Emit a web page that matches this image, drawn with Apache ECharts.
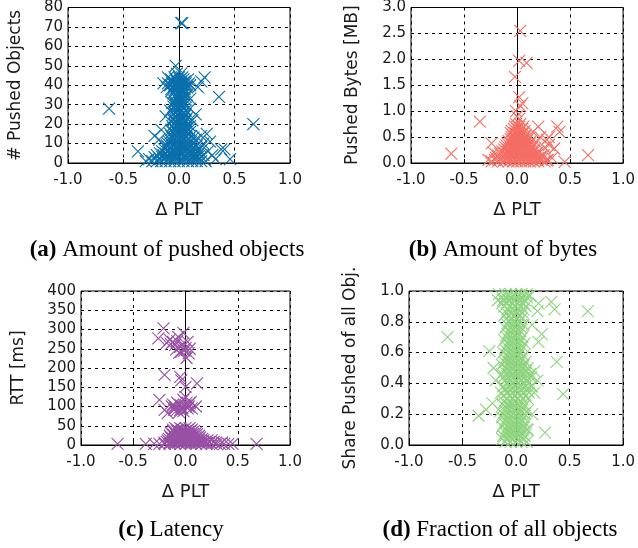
<!DOCTYPE html>
<html>
<head>
<meta charset="utf-8">
<script src="https://cdn.jsdelivr.net/npm/echarts@6/dist/echarts.min.js"></script>
<style>
  html, body { margin: 0; padding: 0; background: #fff; }
  #chart { width: 638px; height: 548px; }
</style>
</head>
<body>
<div id="chart"></div>
<script>
// tick labels
const xTickLabels = ['-1.0', '-0.5', '0.0', '0.5', '1.0'];
const objTickLabels = ['0', '10', '20', '30', '40', '50', '60', '70', '80'];
const bytesTickLabels = ['0.0', '0.5', '1.0', '1.5', '2.0', '2.5', '3.0'];
const rttTickLabels = ['0', '50', '100', '150', '200', '250', '300', '350', '400'];
const shareTickLabels = ['0.0', '0.2', '0.4', '0.6', '0.8', '1.0'];

const captions = ['Amount of pushed objects', 'Amount of bytes', 'Latency', 'Fraction of all objects'];

// (a) delta PLT vs # pushed objects
const pushedObjects = [
  [-0.24,1],[-0.2,1],[-0.16,1],[-0.12,1],[-0.08,1],[-0.04,1],[0,1],[0.04,1],[0.08,1],[0.12,1],[0.16,1],[0.2,1],[0.24,1],
  [-0.18,2.5],[-0.13,2.5],[-0.09,2.5],[-0.05,2.5],[-0.01,2.5],[0.03,2.5],[0.07,2.5],[0.11,2.5],[0.15,2.5],[0.19,2.5],
  [-0.22,3],[-0.11,3],[-0.03,3],[0.05,3],[0.13,3],[0.17,3],
  [-0.2,4],[-0.14,4],[-0.1,4],[-0.06,4],[-0.02,4],[0.02,4],[0.06,4],[0.1,4],[0.14,4],[0.22,4],
  [-0.17,5],[-0.12,5],[-0.08,5],[-0.03,5],[0.01,5],[0.04,5],[0.08,5],[0.12,5],[0.18,5],
  [-0.15,6],[-0.1,6],[-0.05,6],[0,6],[0.05,6],[0.1,6],[0.16,6],
  [-0.13,7],[-0.08,7],[-0.02,7],[0.03,7],[0.07,7],[0.12,7],
  [-0.12,8],[-0.07,8],[-0.03,8],[0.01,8],[0.05,8],[0.09,8],[0.14,8],[0.2,8],
  [-0.11,9],[-0.06,9],[-0.02,9],[0.02,9],[0.06,9],[0.11,9],[0.16,9],
  [-0.1,10],[-0.05,10],[0,10],[0.04,10],[0.08,10],[0.13,10],
  [-0.09,11],[-0.03,11],[0.02,11],[0.06,11],[0.11,11],
  [-0.08,12],[-0.04,12],[0,12],[0.04,12],[0.09,12],[0.15,12],
  [-0.06,13],[-0.01,13],[0.03,13],[0.07,13],[0.13,13],
  [-0.07,14],[-0.02,14],[0.02,14],[0.06,14],[0.11,14],
  [-0.08,15],[-0.04,15],[0,15],[0.04,15],[0.08,15],
  [-0.06,16],[-0.02,16],[0.02,16],[0.06,16],[0.1,16],
  [-0.07,17],[-0.03,17],[0.01,17],[0.05,17],[0.09,17],
  [-0.05,18],[-0.01,18],[0.03,18],[0.07,18],
  [-0.06,19],[-0.02,19],[0.02,19],[0.06,19],[0.1,19],
  [-0.04,20],[0,20],[0.04,20],[0.08,20],
  [-0.03,21],[0.01,21],[0.05,21],
  [-0.05,22],[-0.01,22],[0.03,22],[0.06,22],
  [-0.05,23],[-0.01,23],[0.03,23],[0.07,23],
  [-0.03,24],[0.01,24],[0.05,24],
  [-0.05,25],[-0.01,25],[0.03,25],[0.06,25],
  [-0.04,26],[0,26],[0.04,26],
  [-0.02,27],[0.02,27],[0.06,27],
  [-0.03,28],[0.01,28],[0.05,28],
  [-0.05,29],[-0.01,29],[0.03,29],
  [-0.02,30],[0.02,30],[0.05,30],
  [-0.04,31],[0,31],[0.04,31],
  [-0.04,32],[0,32],[0.03,32],
  [-0.02,33],[0.02,33],[0.05,33],
  [-0.02,34],[0.02,34],[0.06,34],
  [-0.03,35],[0.01,35],[0.04,35],
  [-0.05,36],[-0.01,36],[0.03,36],
  [-0.07,37],[-0.03,37],[0.01,37],[0.05,37],
  [-0.07,38],[-0.03,38],[0.01,38],[0.05,38],
  [-0.05,39],[-0.01,39],[0.03,39],[0.07,39],
  [-0.08,40],[-0.04,40],[0,40],[0.04,40],[0.07,40],
  [-0.1,41],[-0.06,41],[-0.02,41],[0.02,41],[0.06,41],[0.09,41],
  [-0.06,42],[-0.02,42],[0.02,42],[0.05,42],
  [-0.07,43],[-0.03,43],[0.01,43],[0.04,43],
  [-0.04,44],[0,44],[0.03,44],[-0.02,46],[0.02,46],
  [-0.14,41],[-0.11,39],[-0.1,44],[0.1,40],[0.08,43],[0.2,42],[0.23,44],[0.17,39],[0.36,34],
  [-0.03,50],[0.02,72],[0.03,72],[-0.63,28],[0.67,20],
  [-0.12,24],[-0.08,27],[0.1,28],[0.12,22],[0.15,25],[-0.22,14],[-0.16,17],[-0.18,12],
  [0.2,14],[0.25,15],[0.22,10],[0.28,11],[0.26,6],[0.3,4],[0.38,7],[0.41,7],[0.46,2],
  [-0.37,6],[-0.27,2],[-0.3,1],[0.33,2],[0.07,35],[0.1,33],[-0.06,31],[0.12,5],[0.18,7],[-0.15,3]
];

// (b) delta PLT vs pushed bytes [MB]
const pushedBytes = [
  [-0.24,0.03],[-0.18,0.03],[-0.13,0.03],[-0.08,0.03],[-0.04,0.03],[0,0.03],[0.04,0.03],[0.08,0.03],[0.12,0.03],[0.16,0.03],[0.2,0.03],[0.26,0.03],
  [-0.27,0.06],[-0.21,0.06],[-0.16,0.06],[-0.11,0.06],[-0.06,0.06],[-0.02,0.06],[0.02,0.06],[0.06,0.06],[0.1,0.06],[0.14,0.06],[0.18,0.06],[0.23,0.06],[0.29,0.06],
  [-0.2,0.1],[-0.14,0.1],[-0.09,0.1],[-0.05,0.1],[-0.01,0.1],[0.03,0.1],[0.07,0.1],[0.11,0.1],[0.15,0.1],[0.21,0.1],
  [-0.18,0.14],[-0.12,0.14],[-0.07,0.14],[-0.03,0.14],[0.01,0.14],[0.05,0.14],[0.09,0.14],[0.13,0.14],[0.17,0.14],[0.23,0.14],
  [-0.16,0.18],[-0.11,0.18],[-0.06,0.18],[-0.02,0.18],[0.02,0.18],[0.06,0.18],[0.1,0.18],[0.14,0.18],[0.18,0.18],
  [-0.14,0.22],[-0.09,0.22],[-0.04,0.22],[0,0.22],[0.04,0.22],[0.08,0.22],[0.12,0.22],[0.16,0.22],[0.2,0.22],
  [-0.12,0.26],[-0.08,0.26],[-0.04,0.26],[0,0.26],[0.04,0.26],[0.08,0.26],[0.12,0.26],[0.16,0.26],
  [-0.11,0.3],[-0.06,0.3],[-0.02,0.3],[0.02,0.3],[0.06,0.3],[0.1,0.3],[0.14,0.3],
  [-0.1,0.34],[-0.05,0.34],[-0.01,0.34],[0.03,0.34],[0.07,0.34],[0.11,0.34],
  [-0.09,0.38],[-0.04,0.38],[0,0.38],[0.04,0.38],[0.08,0.38],[0.12,0.38],
  [-0.08,0.42],[-0.03,0.42],[0.01,0.42],[0.05,0.42],[0.09,0.42],[0.13,0.42],
  [-0.06,0.46],[-0.02,0.46],[0.02,0.46],[0.06,0.46],[0.1,0.46],
  [-0.05,0.5],[-0.01,0.5],[0.03,0.5],[0.07,0.5],[0.1,0.5],
  [-0.04,0.54],[0,0.54],[0.04,0.54],[0.08,0.54],
  [-0.06,0.58],[-0.02,0.58],[0.02,0.58],[0.06,0.58],
  [-0.05,0.62],[-0.01,0.62],[0.03,0.62],[0.07,0.62],
  [-0.03,0.66],[0.01,0.66],[0.05,0.66],
  [-0.02,0.7],[0.02,0.7],[0.06,0.7],
  [-0.01,0.75],[0.03,0.75],[0.02,0.85],
  [0.03,2.55],[0.02,1.97],[0.09,1.93],[-0.02,1.66],[0.02,1.27],[0.03,1.1],[0.05,1.15],[-0.01,1.0],[0.0,0.9],
  [-0.35,0.8],[-0.62,0.18],[0.67,0.15],[0.38,0.7],[0.4,0.6],[0.35,0.28],[0.45,0.02],
  [-0.24,0.38],[-0.22,0.2],[0.2,0.7],[0.22,0.5],[0.28,0.45],[0.15,0.6],[0.3,0.35],[0.25,0.15],[0.2,0.1],
  [0.3,0.5],[0.33,0.1],[0.28,0.05],[0.26,0.3],[0.18,0.4]
];

// (c) delta PLT vs RTT [ms]
const rttMs = [
  [-0.21,303],[-0.26,277],[-0.15,273],[-0.07,281],[-0.02,291],[-0.1,260],[-0.05,255],[0,252],[0.03,238],
  [0.01,226],[-0.04,242],[-0.09,248],[-0.14,262],[-0.12,268],
  [-0.18,265],[-0.08,270],[-0.03,262],[0.02,268],[-0.06,240],[0.04,250],[-0.01,245],
  [-0.2,182],[-0.05,177],[0,151],[0.11,160],[-0.04,168],
  [-0.25,117],[-0.2,91],[-0.17,83],[-0.1,100],[-0.05,104],[-0.02,117],[0.04,108],[0.1,100],[0.02,95],
  [-0.08,91],[-0.13,100],[-0.05,91],[0.06,95],[0,125],[-0.11,92],[-0.03,96],
  [-0.12,105],[-0.08,110],[-0.04,98],[0,103],[0.03,100],[-0.06,85],[-0.1,95],[0.01,110],[-0.02,88],[0.05,112],
  [-0.1,44],[-0.05,44],[0,44],[0.04,44],
  [-0.12,40],[-0.08,40],[-0.03,40],[0.02,40],[0.06,40],
  [-0.12,36],[-0.08,36],[-0.04,36],[0,36],[0.04,36],[0.08,36],
  [-0.14,32],[-0.1,32],[-0.06,32],[-0.02,32],[0.02,32],[0.06,32],[0.1,32],
  [-0.13,28],[-0.09,28],[-0.05,28],[-0.01,28],[0.03,28],[0.07,28],[0.11,28],
  [-0.15,24],[-0.11,24],[-0.07,24],[-0.03,24],[0.01,24],[0.05,24],[0.09,24],[0.13,24],
  [-0.14,20],[-0.1,20],[-0.06,20],[-0.02,20],[0.02,20],[0.06,20],[0.1,20],[0.14,20],
  [-0.16,16],[-0.12,16],[-0.08,16],[-0.04,16],[0,16],[0.04,16],[0.08,16],[0.12,16],[0.16,16],
  [-0.17,12],[-0.11,12],[-0.07,12],[-0.03,12],[0.01,12],[0.05,12],[0.09,12],[0.13,12],[0.17,12],[0.21,12],[0.25,12],
  [-0.18,8],[-0.13,8],[-0.09,8],[-0.05,8],[-0.01,8],[0.03,8],[0.07,8],[0.11,8],[0.15,8],[0.19,8],[0.23,8],[0.27,8],
  [-0.2,6],[-0.15,6],[-0.11,6],[-0.07,6],[-0.03,6],[0.01,6],[0.05,6],[0.09,6],[0.13,6],[0.17,6],[0.21,6],[0.29,6],[0.35,6],
  [-0.65,3],[-0.38,3],[-0.3,3],[-0.25,3],[-0.2,3],[-0.15,3],[-0.1,3],[-0.05,3],[0,3],[0.05,3],
  [0.1,3],[0.15,3],[0.2,3],[0.25,3],[0.3,3],[0.33,3],[0.37,3],[0.41,3],[0.45,3],[0.68,3]
];

// (d) delta PLT vs share of pushed objects
const sharePushed = [
  [-0.1,0.02],[-0.05,0.02],[0,0.02],[0.05,0.02],[0.1,0.02],
  [-0.13,0.04],[-0.08,0.04],[-0.03,0.04],[0.02,0.04],[0.07,0.04],
  [-0.12,0.06],[-0.07,0.06],[-0.02,0.06],[0.03,0.06],[0.08,0.06],
  [-0.1,0.08],[-0.05,0.08],[0,0.08],[0.05,0.08],
  [-0.09,0.1],[-0.04,0.1],[0.01,0.1],[0.06,0.1],[0.11,0.1],
  [-0.13,0.12],[-0.08,0.12],[-0.03,0.12],[0.02,0.12],[0.07,0.12],
  [-0.11,0.14],[-0.06,0.14],[-0.01,0.14],[0.04,0.14],[0.09,0.14],
  [-0.1,0.16],[-0.05,0.16],[0,0.16],[0.05,0.16],
  [-0.13,0.18],[-0.08,0.18],[-0.03,0.18],[0.02,0.18],[0.07,0.18],
  [-0.12,0.2],[-0.07,0.2],[-0.02,0.2],[0.03,0.2],[0.08,0.2],
  [-0.15,0.22],[-0.1,0.22],[-0.05,0.22],[0,0.22],[0.05,0.22],[0.1,0.22],
  [-0.09,0.24],[-0.04,0.24],[0.01,0.24],[0.06,0.24],
  [-0.12,0.26],[-0.07,0.26],[-0.02,0.26],[0.03,0.26],[0.08,0.26],
  [-0.11,0.28],[-0.06,0.28],[-0.01,0.28],[0.04,0.28],
  [-0.09,0.3],[-0.04,0.3],[0.01,0.3],[0.06,0.3],[0.11,0.3],
  [-0.12,0.32],[-0.06,0.32],[-0.01,0.32],[0.04,0.32],[0.09,0.32],
  [-0.14,0.34],[-0.08,0.34],[-0.03,0.34],[0.02,0.34],[0.07,0.34],[0.12,0.34],
  [-0.1,0.36],[-0.05,0.36],[0,0.36],[0.05,0.36],[0.1,0.36],
  [-0.12,0.38],[-0.06,0.38],[-0.01,0.38],[0.04,0.38],[0.09,0.38],[0.14,0.38],
  [-0.08,0.4],[-0.03,0.4],[0.02,0.4],[0.07,0.4],[0.12,0.4],
  [-0.1,0.42],[-0.05,0.42],[0,0.42],[0.05,0.42],[0.1,0.42],
  [-0.12,0.44],[-0.07,0.44],[-0.02,0.44],[0.03,0.44],[0.08,0.44],[0.14,0.44],
  [-0.13,0.46],[-0.07,0.46],[-0.02,0.46],[0.03,0.46],[0.08,0.46],[0.13,0.46],
  [-0.11,0.48],[-0.06,0.48],[-0.01,0.48],[0.04,0.48],[0.09,0.48],
  [-0.09,0.5],[-0.04,0.5],[0.01,0.5],[0.06,0.5],[0.11,0.5],
  [-0.13,0.52],[-0.08,0.52],[-0.03,0.52],[0.02,0.52],[0.07,0.52],
  [-0.11,0.54],[-0.06,0.54],[-0.01,0.54],[0.04,0.54],[0.09,0.54],
  [-0.1,0.56],[-0.05,0.56],[0,0.56],[0.05,0.56],
  [-0.08,0.58],[-0.03,0.58],[0.02,0.58],[0.07,0.58],
  [-0.12,0.6],[-0.07,0.6],[-0.02,0.6],[0.03,0.6],
  [-0.1,0.62],[-0.05,0.62],[0,0.62],[0.05,0.62],
  [-0.09,0.64],[-0.04,0.64],[0.01,0.64],[0.06,0.64],
  [-0.07,0.66],[-0.02,0.66],[0.03,0.66],[0.08,0.66],
  [-0.11,0.68],[-0.06,0.68],[-0.01,0.68],[0.04,0.68],
  [-0.09,0.7],[-0.04,0.7],[0.01,0.7],[0.06,0.7],
  [-0.08,0.72],[-0.03,0.72],[0.02,0.72],
  [-0.06,0.74],[-0.01,0.74],[0.04,0.74],
  [-0.1,0.76],[-0.05,0.76],[0,0.76],[0.05,0.76],
  [-0.08,0.78],[-0.03,0.78],[0.02,0.78],[0.07,0.78],
  [-0.07,0.8],[-0.02,0.8],[0.03,0.8],
  [-0.05,0.82],[0,0.82],[0.05,0.82],
  [-0.11,0.84],[-0.06,0.84],[-0.01,0.84],[0.04,0.84],
  [-0.09,0.86],[-0.04,0.86],[0.01,0.86],[0.06,0.86],
  [-0.08,0.88],[-0.03,0.88],[0.02,0.88],[0.07,0.88],
  [-0.11,0.9],[-0.06,0.9],[-0.01,0.9],[0.04,0.9],[0.09,0.9],
  [-0.13,0.92],[-0.08,0.92],[-0.03,0.92],[0.02,0.92],[0.07,0.92],
  [-0.12,0.94],[-0.07,0.94],[-0.02,0.94],[0.03,0.94],[0.08,0.94],
  [-0.1,0.96],[-0.05,0.96],[0,0.96],[0.05,0.96],[0.1,0.96],
  [-0.1,0.98],[-0.05,0.98],[0,0.98],[0.05,0.98],[0.1,0.98],
  [-0.64,0.7],[0.67,0.87],[0.44,0.33],[0.38,0.54],[0.27,0.08],[-0.35,0.19],[-0.25,0.61],
  [0.21,0.92],[0.33,0.93],[0.36,0.88],[0.24,0.72],[0.21,0.67],[0.15,0.78],[-0.21,0.5],[-0.19,0.42],
  [-0.22,0.27],[-0.28,0.23],[0.15,0.38],[0.2,0.42],[0.17,0.48],[0.17,0.34],[0.15,0.2],[0.1,0.1],
  [-0.17,0.94],[-0.16,0.98],[0.13,0.97],[0.2,0.87]
];

const colors = ['#0a70ac', '#f46e64', '#9850a5', '#8ed47f'];
const crossPath = 'path://M0,0L10,10M0,10L10,0';

const chart = echarts.init(document.getElementById('chart'));

const grids = [
  { left: 68, top: 7, width: 222, height: 156 },
  { left: 411, top: 7, width: 214, height: 156 },
  { left: 81, top: 291, width: 209, height: 154 },
  { left: 409, top: 291, width: 216, height: 154 }
];

const yConf = [
  { min: 0, max: 80, interval: 10, labels: objTickLabels, name: '# Pushed Objects', gap: 44 },
  { min: 0, max: 3, interval: 0.5, labels: bytesTickLabels, name: 'Pushed Bytes [MB]', gap: 50 },
  { min: 0, max: 400, interval: 50, labels: rttTickLabels, name: 'RTT [ms]', gap: 54 },
  { min: 0, max: 1, interval: 0.2, labels: shareTickLabels, name: 'Share Pushed of all Obj.', gap: 50 }
];
const seriesData = [pushedObjects, pushedBytes, rttMs, sharePushed];

const tickFont = { fontFamily: 'DejaVu Sans', fontSize: 15, color: '#1a1a1a' };
const nameFont = { fontFamily: 'DejaVu Sans', fontSize: 17, color: '#1a1a1a' };
const gridLine = { show: true, lineStyle: { color: '#000', type: [3, 4], width: 1 } };

const pickLabel = (labels, min, interval) => (v) => {
  const i = Math.round((v - min) / interval);
  return labels[i] !== undefined ? labels[i] : '';
};

const captionPos = [[167, 250], [503, 250], [171, 530], [500, 530]];

const option = {
  animation: false,
  backgroundColor: '#fff',
  grid: grids.map(g => Object.assign({ show: true, borderColor: '#000', borderWidth: 1, backgroundColor: 'transparent' }, g)),
  xAxis: grids.map((g, i) => ({
    gridIndex: i,
    type: 'value',
    min: -1, max: 1, interval: 0.5,
    name: 'Δ PLT',
    nameLocation: 'middle',
    nameGap: 38,
    nameTextStyle: Object.assign({}, nameFont, { fontSize: 18 }),
    axisLine: { show: true, lineStyle: { color: '#000' } },
    axisTick: { show: true, inside: true, length: 4, lineStyle: { color: '#000' } },
    axisLabel: Object.assign({ margin: 10, formatter: pickLabel(xTickLabels, -1, 0.5) }, tickFont),
    splitLine: gridLine
  })),
  yAxis: yConf.map((c, i) => ({
    gridIndex: i,
    type: 'value',
    min: c.min, max: c.max, interval: c.interval,
    name: c.name,
    nameLocation: 'middle',
    nameGap: c.gap,
    nameRotate: 90,
    nameTextStyle: nameFont,
    axisLine: { show: true, lineStyle: { color: '#000' } },
    axisTick: { show: true, inside: true, length: 4, lineStyle: { color: '#000' } },
    axisLabel: Object.assign({ margin: 5, formatter: pickLabel(c.labels, c.min, c.interval) }, tickFont),
    splitLine: gridLine
  })),
  series: seriesData.map((d, i) => ({
    type: 'scatter',
    xAxisIndex: i,
    yAxisIndex: i,
    data: d,
    symbol: crossPath,
    symbolSize: 12,
    itemStyle: { color: 'rgba(0,0,0,0)', borderColor: colors[i], borderWidth: 1.1, opacity: 1 },
    emphasis: { disabled: true },
    z: 3
  })),
  graphic: captionPos.map((p, i) => ({
    type: 'text',
    x: p[0],
    y: p[1],
    style: {
      rich: {
        b: { fontFamily: 'Liberation Serif', fontSize: 23, fontWeight: 'bold', fill: '#000' },
        n: { fontFamily: 'Liberation Serif', fontSize: 23, fill: '#000' }
      },
      text: '{b|(' + 'abcd'[i] + ')}{n| ' + captions[i] + '}',
      align: 'center',
      verticalAlign: 'middle'
    }
  }))
};

chart.setOption(option);
</script>
</body>
</html>
